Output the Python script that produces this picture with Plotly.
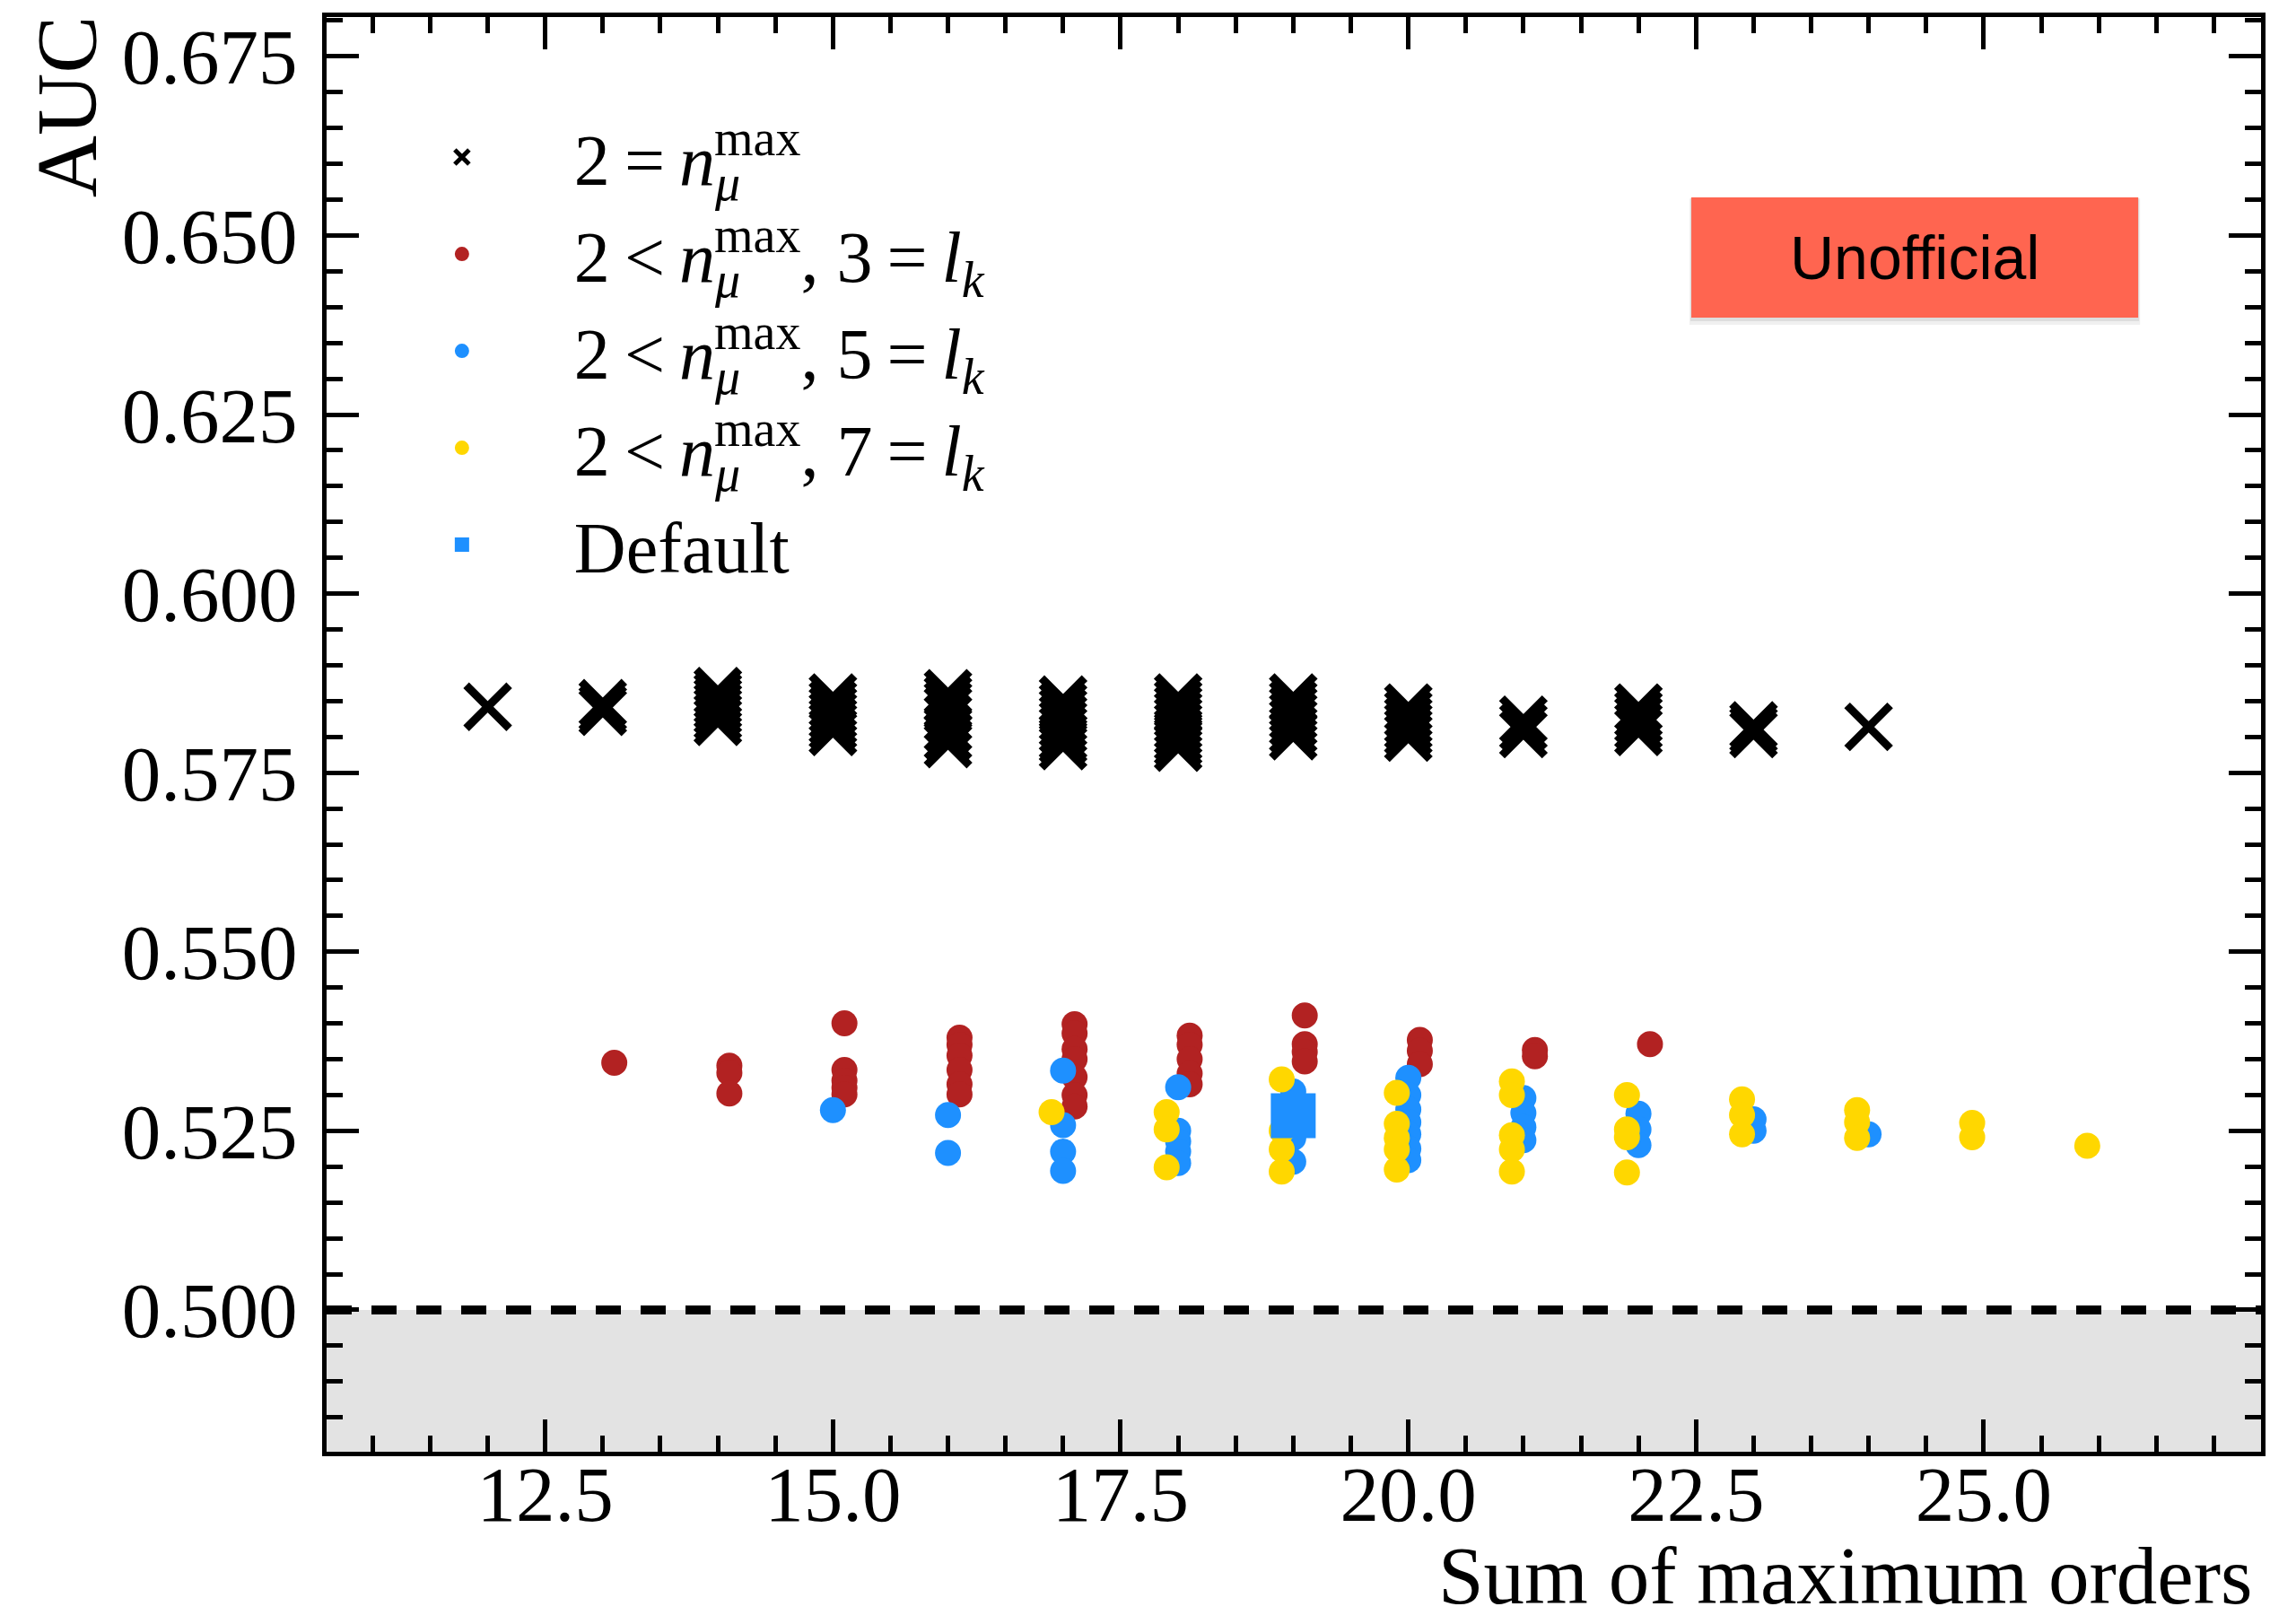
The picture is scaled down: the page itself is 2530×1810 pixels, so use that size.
import plotly.graph_objects as go

# ---------------- data ----------------
# AUC values grouped by "sum of maximum orders"
cross_auc = {  # 2 = n_mu^max
    12: [0.5842],
    13: [0.5847, 0.5840, 0.5835],
    14: [0.5864, 0.5857, 0.5850, 0.5843, 0.5836, 0.5828, 0.5821],
    15: [0.5855, 0.5846, 0.5838, 0.5830, 0.5822, 0.5815, 0.5807],
    16: [0.5861, 0.5853, 0.5845, 0.5838, 0.5826, 0.5812, 0.5800, 0.5790],
    17: [0.5852, 0.5843, 0.5835, 0.5826, 0.5818, 0.5810, 0.5800, 0.5795, 0.5787],
    18: [0.5855, 0.5847, 0.5839, 0.5831, 0.5823, 0.5815, 0.5807, 0.5799, 0.5792, 0.5785],
    19: [0.5855, 0.5846, 0.5838, 0.5829, 0.5820, 0.5810, 0.5801],
    20: [0.5841, 0.5832, 0.5823, 0.5815, 0.5807, 0.5799],
    21: [0.5824, 0.5814, 0.5804],
    22: [0.5841, 0.5832, 0.5824, 0.5815, 0.5807],
    23: [0.5816, 0.5810, 0.5804],
    24: [0.5814],
}
red_auc = {  # 2 < n_mu^max, 3 = l_k
    13: [0.5345],
    14: [0.5341, 0.5331, 0.5302],
    15: [0.5400, 0.5335, 0.5320, 0.5310, 0.5301],
    16: [0.5380, 0.5370, 0.5355, 0.5335, 0.5315, 0.5301],
    17: [0.5399, 0.5386, 0.5364, 0.5350, 0.5325, 0.5300, 0.5284],
    18: [0.5383, 0.5370, 0.5350, 0.5330, 0.5315],
    19: [0.5411, 0.5371, 0.5360, 0.5347],
    20: [0.5377, 0.5362, 0.5343],
    21: [0.5363, 0.5354],
    22: [0.5371],
}
blue_auc = {  # 2 < n_mu^max, 5 = l_k
    15: [0.5279],
    16: [0.5272, 0.5219],
    17: [0.5334, 0.5258, 0.5221, 0.5194],
    18: [0.5311, 0.5250, 0.5235, 0.5221, 0.5205],
    19: [0.5305, 0.5240, 0.5207],
    20: [0.5324, 0.5300, 0.5280, 0.5262, 0.5245, 0.5225, 0.5209],
    21: [0.5296, 0.5275, 0.5255, 0.5237],
    22: [0.5274, 0.5252, 0.5230],
    23: [0.5266, 0.5250],
    24: [0.5245],
}
yellow_auc = {  # 2 < n_mu^max, 7 = l_k
    17: [0.5276],
    18: [0.5276, 0.5252, 0.5199],
    19: [0.5322, 0.5250, 0.5224, 0.5193],
    20: [0.5303, 0.5260, 0.5240, 0.5224, 0.5196],
    21: [0.5319, 0.5300, 0.5244, 0.5224, 0.5193],
    22: [0.5300, 0.5252, 0.5241, 0.5192],
    23: [0.5294, 0.5272, 0.5245],
    24: [0.5279, 0.5262, 0.5240],
    25: [0.5261, 0.5241],
    26: [0.5229],
}
default_sum = [19]
default_auc = [0.5271]

# n_mu^max with the subscript stacked under the superscript
NMU = ("<i>n</i><sub><span style='letter-spacing:-0.52em'><i>μ</i></span></sub>"
       "<sup>max</sup>")
LK = "<i>l</i><sub><i>k</i></sub>"
SP = "\u2009"
names = [
    f"2{SP}={SP}{NMU}",
    f"2{SP}&lt;{SP}{NMU}, 3{SP}={SP}{LK}",
    f"2{SP}&lt;{SP}{NMU}, 5{SP}={SP}{LK}",
    f"2{SP}&lt;{SP}{NMU}, 7{SP}={SP}{LK}",
    "Default",
]

xticks = [12.5, 15.0, 17.5, 20.0, 22.5, 25.0]
yticks = [0.500, 0.525, 0.550, 0.575, 0.600, 0.625, 0.650, 0.675]

RED = "#B22222"
BLUE = "#1E90FF"
YELLOW = "#FFD700"
SERIF = "Liberation Serif, Times New Roman, serif"


def expand(d, shift=0.0):
    xs, ys = [], []
    for k, vals in d.items():
        for v in vals:
            xs.append(k + shift)
            ys.append(v)
    return xs, ys


fig = go.Figure()

# band below chance level and dashed line at 0.5
fig.add_shape(type="rect", xref="paper", yref="y", x0=0, x1=1, y0=0.47, y1=0.5,
              fillcolor="#e3e3e3", line=dict(width=0), layer="below")
fig.add_shape(type="line", xref="paper", yref="y", x0=0, x1=1, y0=0.5, y1=0.5,
              line=dict(color="black", width=10, dash="28px,22px"), layer="above")

x, y = expand(cross_auc)
fig.add_trace(go.Scatter(x=x, y=y, mode="markers", name=names[0], legendgroup="g0",
                         marker=dict(symbol="x-thin", size=48, color="black",
                                     line=dict(color="black", width=9))))
x, y = expand(red_auc, 0.1)
fig.add_trace(go.Scatter(x=x, y=y, mode="markers", name=names[1], legendgroup="g1",
                         marker=dict(symbol="circle", size=29, color=RED, line=dict(width=0))))
x, y = expand(blue_auc, 0.0)
fig.add_trace(go.Scatter(x=x, y=y, mode="markers", name=names[2], legendgroup="g2",
                         marker=dict(symbol="circle", size=29, color=BLUE, line=dict(width=0))))
x, y = expand(yellow_auc, -0.1)
fig.add_trace(go.Scatter(x=x, y=y, mode="markers", name=names[3], legendgroup="g3",
                         marker=dict(symbol="circle", size=29, color=YELLOW, line=dict(width=0))))
fig.add_trace(go.Scatter(x=default_sum, y=default_auc, mode="markers", name=names[4],
                         legendgroup="g4",
                         marker=dict(symbol="square", size=50, color=BLUE, line=dict(width=0))))

axis_common = dict(
    showgrid=False, zeroline=False, showline=True, linecolor="black", linewidth=5,
    mirror="allticks", ticks="inside", ticklen=36, tickwidth=5, tickcolor="black",
    tickfont=dict(family=SERIF, size=87, color="black"),
)
fig.update_xaxes(range=[10.6, 27.41], tickvals=xticks, tickformat=".1f",
                 minor=dict(dtick=0.5, tick0=0, ticks="inside", ticklen=18, tickwidth=5,
                            tickcolor="black", showgrid=False),
                 ticklabelstandoff=-32, **axis_common)
fig.update_yaxes(range=[0.4802, 0.6805], tickvals=yticks, tickformat=".3f",
                 minor=dict(dtick=0.005, tick0=0.5, ticks="inside", ticklen=18, tickwidth=5,
                            tickcolor="black", showgrid=False),
                 ticklabelstandoff=10, **axis_common)

# soft shadow + "Unofficial" badge
fig.add_shape(type="rect", xref="paper", yref="paper", x0=0.7045, x1=0.9375,
              y0=0.7855, y1=0.8735, fillcolor="rgba(0,0,0,0.06)", line=dict(width=0))
fig.add_shape(type="rect", xref="paper", yref="paper", x0=0.7050, x1=0.9370,
              y0=0.7880, y1=0.8740, fillcolor="rgba(0,0,0,0.08)", line=dict(width=0))
fig.add_shape(type="rect", xref="paper", yref="paper", x0=0.7055, x1=0.9365,
              y0=0.7905, y1=0.8743, fillcolor="#FF6550", line=dict(width=0))

annotations = [
    dict(text="Unofficial", xref="paper", yref="paper", x=0.821, y=0.8324,
         xanchor="center", yanchor="middle", showarrow=False,
         font=dict(family="Liberation Sans, Arial, sans-serif", size=68, color="black")),
    dict(text="AUC", xref="paper", yref="paper", x=-0.1345, y=1.002, textangle=-90,
         xanchor="center", yanchor="top", showarrow=False,
         font=dict(family=SERIF, size=96, color="black")),
    dict(text="Sum of maximum orders", xref="paper", yref="paper", x=0.9963, y=-0.1195,
         xanchor="right", yanchor="bottom", showarrow=False,
         font=dict(family=SERIF, size=91, color="black")),
]

fig.update_layout(
    width=2530, height=1810,
    margin=dict(l=364, r=10, t=19, b=192, autoexpand=False),
    paper_bgcolor="white", plot_bgcolor="white",
    showlegend=True,
    legend=dict(x=0.012, y=0.939, xanchor="left", yanchor="top",
                bgcolor="rgba(0,0,0,0)", itemwidth=240, itemsizing="trace",
                tracegroupgap=1,
                font=dict(family=SERIF, size=80, color="black")),
    annotations=annotations,
)

fig.write_html("out.html", config={"displayModeBar": False},
               post_script="document.body.style.margin='0px';document.body.style.overflow='hidden';")
